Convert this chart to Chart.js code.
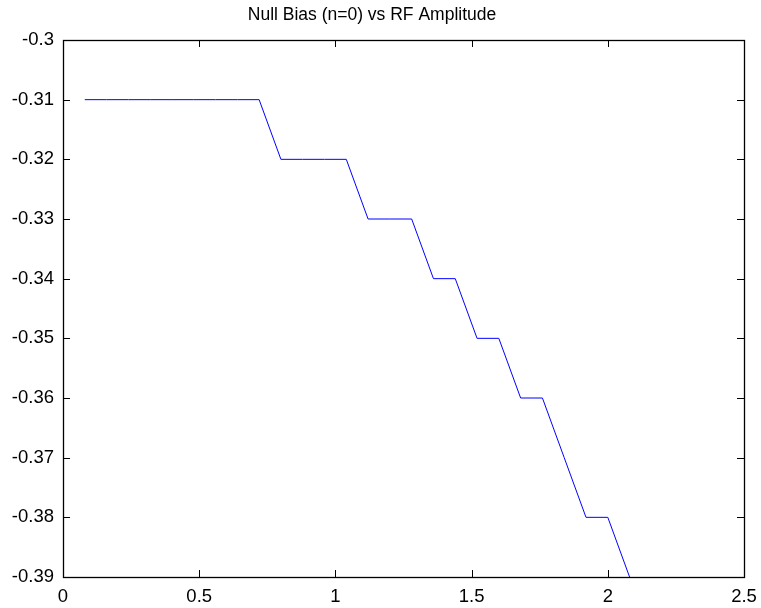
<!DOCTYPE html>
<html>
<head>
<meta charset="utf-8">
<script src="https://cdn.jsdelivr.net/npm/chart.js@4"></script>
<style>
  html, body { margin: 0; padding: 0; background: #fff; }
  #wrap { width: 761px; height: 608px; }
</style>
</head>
<body>
<div id="wrap"><canvas id="grafico" width="761" height="608"></canvas></div>
<script>
// RF amplitude (x) and null bias (y)
const amplitud = [0.08, 0.16, 0.24, 0.32, 0.40, 0.48, 0.56, 0.64, 0.72,
                  0.80, 0.88, 0.96, 1.04, 1.12, 1.20, 1.28, 1.36, 1.44,
                  1.52, 1.60, 1.68, 1.76, 1.84, 1.92, 2.00, 2.08];
const nullBias = [-0.31, -0.31, -0.31, -0.31, -0.31, -0.31, -0.31, -0.31, -0.31,
                  -0.32, -0.32, -0.32, -0.32, -0.33, -0.33, -0.33, -0.34, -0.34,
                  -0.35, -0.35, -0.36, -0.36, -0.37, -0.38, -0.38, -0.39];
const xTicks = [0, 0.5, 1, 1.5, 2, 2.5];
const yTicks = [-0.3, -0.31, -0.32, -0.33, -0.34, -0.35, -0.36, -0.37, -0.38, -0.39];
const titulo = 'Null Bias (n=0) vs RF Amplitude';

const puntos = amplitud.map((x, i) => ({ x: x, y: nullBias[i] }));

// marco y marcas hacia adentro, estilo MATLAB
const marcoPlugin = {
    id: 'marco',
    afterDraw(chart) {
        const ctx = chart.ctx;
        const a = chart.chartArea;
        const sx = chart.scales.x, sy = chart.scales.y;
        const len = 7;
        ctx.save();
        ctx.strokeStyle = '#000';
        ctx.lineWidth = 1;
        ctx.beginPath();
        xTicks.forEach(v => {
            const px = Math.round(sx.getPixelForValue(v)) + 0.5;
            ctx.moveTo(px, a.bottom); ctx.lineTo(px, a.bottom - len);
            ctx.moveTo(px, a.top); ctx.lineTo(px, a.top + len);
        });
        yTicks.forEach(v => {
            const py = Math.round(sy.getPixelForValue(v)) + 0.5;
            ctx.moveTo(a.left, py); ctx.lineTo(a.left + len, py);
            ctx.moveTo(a.right, py); ctx.lineTo(a.right - len, py);
        });
        ctx.stroke();
        ctx.lineWidth = 1.3;
        ctx.strokeRect(Math.round(a.left) + 0.5, Math.round(a.top) + 0.5,
                       Math.round(a.right - a.left), Math.round(a.bottom - a.top));
        ctx.restore();
    }
};

const fuente = { family: '"Liberation Sans", Arial, sans-serif', size: 18.5 };

new Chart(document.getElementById('grafico').getContext('2d'), {
    type: 'scatter',
    data: {
        datasets: [{
            data: puntos,
            showLine: true,
            borderColor: '#0000ff',
            backgroundColor: '#0000ff',
            borderWidth: 1,
            pointRadius: 0,
            tension: 0
        }]
    },
    options: {
        responsive: false,
        animation: false,
        layout: { padding: { left: 0, right: 17, top: 0, bottom: 0 } },
        plugins: {
            legend: { display: false },
            tooltip: { enabled: false },
            title: {
                display: true,
                text: titulo,
                color: '#000',
                font: { family: fuente.family, size: 17.5, weight: 'normal' },
                padding: { top: 5, bottom: 14 }
            }
        },
        scales: {
            x: {
                type: 'linear',
                min: 0, max: 2.5,
                afterBuildTicks: s => { s.ticks = xTicks.map(v => ({ value: v })); },
                afterFit: s => { s.height = 31; s.paddingLeft = 0; s.paddingRight = 0; },
                grid: { display: false, drawTicks: false },
                border: { display: false },
                ticks: {
                    color: '#000', font: fuente, padding: 9,
                    callback: v => String(Number(v.toFixed(2)))
                }
            },
            y: {
                type: 'linear',
                min: -0.39, max: -0.3,
                afterBuildTicks: s => { s.ticks = yTicks.map(v => ({ value: v })); },
                afterFit: s => { s.width = 63; s.paddingTop = 0; s.paddingBottom = 0; },
                grid: { display: false, drawTicks: false },
                border: { display: false },
                ticks: {
                    color: '#000', font: fuente, padding: 9,
                    callback: v => String(Number(v.toFixed(2)))
                }
            }
        }
    },
    plugins: [marcoPlugin]
});
</script>
</body>
</html>
